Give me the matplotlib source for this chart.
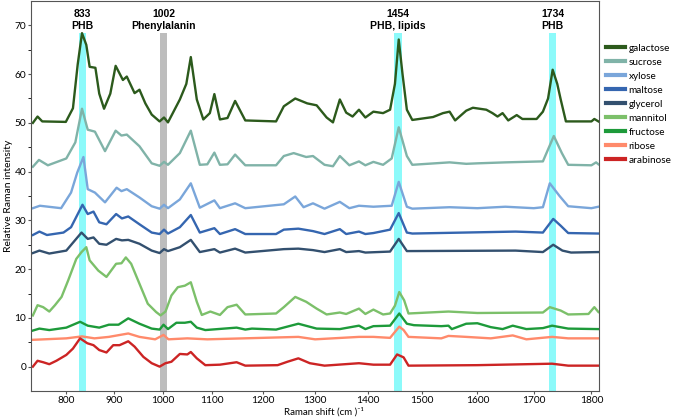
import numpy as np
import matplotlib
matplotlib.use("Agg")
import matplotlib.pyplot as plt

# ---------------- data ----------------
series_names = ["galactose", "sucrose", "xylose", "maltose", "glycerol",
                "mannitol", "fructose", "ribose", "arabinose"]
series_colors = ["#2c5a1c", "#80b3a8", "#7aa6da", "#3566b0", "#33506f",
                 "#7cc06a", "#1d9a3a", "#ff8a6b", "#cc2424"]

galactose_x = [730, 740, 750, 800, 815, 825, 834, 843, 850, 862, 870, 880, 893, 904, 919, 927, 943, 953, 965, 978,
               994, 1003, 1011, 1035, 1048, 1057, 1069, 1082, 1095, 1104, 1115, 1130, 1145, 1165, 1225, 1240, 1262,
               1285, 1303, 1322, 1334, 1347, 1359, 1371, 1383, 1395, 1410, 1428, 1441, 1450, 1457, 1464, 1472, 1482,
               1520, 1538, 1550, 1560, 1580, 1592, 1616, 1627, 1636, 1645, 1655, 1670, 1680, 1705, 1716, 1725, 1733,
               1741, 1747, 1756, 1800, 1805, 1812]
galactose_y = [50.0, 51.3, 50.3, 50.2, 53.0, 62.0, 68.4, 66.0, 61.5, 61.3, 56.0, 52.9, 56.0, 61.7, 58.8, 59.5, 56.1,
               56.8, 54.0, 51.7, 50.3, 51.1, 50.1, 54.8, 58.0, 63.5, 54.8, 50.7, 52.0, 55.9, 50.7, 51.0, 54.5, 50.5,
               50.3, 53.4, 55.0, 54.0, 53.6, 51.1, 50.1, 54.8, 52.1, 51.3, 52.7, 51.1, 52.3, 52.0, 52.7, 58.0, 67.1,
               60.0, 52.7, 50.6, 51.2, 52.0, 52.3, 50.5, 52.5, 53.1, 52.7, 52.0, 51.3, 52.0, 50.5, 51.6, 50.8, 50.8,
               52.3, 55.0, 60.9, 58.0, 54.8, 50.3, 50.3, 50.8, 50.3]

sucrose_x = [730, 743, 762, 801, 820, 834, 846, 861, 882, 904, 916, 927, 953, 978, 994, 1003, 1011, 1035, 1057, 1075,
             1090, 1104, 1115, 1130, 1145, 1165, 1225, 1240, 1259, 1283, 1296, 1318, 1334, 1347, 1365, 1383, 1395,
             1410, 1428, 1444, 1457, 1472, 1482, 1550, 1580, 1600, 1650, 1716, 1735, 1749, 1760, 1800, 1808, 1812]
sucrose_y = [41.0, 42.4, 41.3, 42.7, 46.0, 52.9, 48.6, 48.2, 44.2, 48.4, 47.4, 47.6, 45.2, 41.7, 41.2, 42.0, 41.4,
             43.8, 48.4, 41.4, 41.5, 43.9, 41.4, 41.5, 43.5, 41.3, 41.3, 43.2, 43.8, 43.0, 43.2, 41.4, 41.1, 43.2,
             41.3, 42.1, 41.3, 42.0, 41.4, 42.7, 49.1, 43.2, 41.4, 41.9, 41.6, 41.7, 41.9, 42.1, 47.3, 43.8, 41.4,
             41.3, 41.9, 41.5]

xylose_x = [730, 745, 790, 811, 824, 837, 846, 861, 882, 906, 916, 927, 953, 978, 994, 1003, 1011, 1035, 1057, 1075,
            1104, 1115, 1145, 1165, 1240, 1262, 1278, 1296, 1318, 1347, 1365, 1383, 1410, 1444, 1457, 1472, 1482,
            1550, 1600, 1650, 1700, 1716, 1728, 1745, 1760, 1800, 1812]
xylose_y = [32.5, 33.0, 32.5, 35.7, 39.8, 43.0, 36.4, 35.7, 33.7, 36.7, 36.0, 36.4, 34.7, 32.9, 32.4, 33.2, 32.5,
            34.3, 37.6, 32.6, 34.1, 32.5, 33.5, 32.5, 33.3, 34.9, 32.7, 33.5, 32.4, 33.8, 32.5, 33.0, 32.8, 33.0,
            37.9, 32.8, 32.4, 32.7, 32.5, 32.8, 32.5, 32.7, 37.6, 35.0, 32.9, 32.5, 32.8]

maltose_x = [730, 744, 760, 795, 811, 835, 846, 858, 870, 885, 905, 917, 930, 953, 978, 994, 1003, 1011, 1035, 1057,
             1075, 1104, 1115, 1145, 1165, 1225, 1240, 1268, 1296, 1318, 1347, 1359, 1383, 1395, 1410, 1441, 1457,
             1472, 1482, 1668, 1716, 1734, 1747, 1760, 1812]
maltose_y = [27.0, 27.7, 27.0, 27.5, 28.6, 33.2, 31.3, 31.8, 29.6, 29.2, 31.3, 30.4, 30.8, 29.2, 27.5, 27.2, 28.1,
             27.3, 28.6, 31.1, 27.5, 28.4, 27.2, 28.2, 27.2, 27.2, 28.1, 28.3, 27.8, 27.2, 28.2, 27.2, 27.7, 27.2,
             27.4, 28.1, 31.5, 27.5, 27.3, 27.7, 27.5, 30.3, 28.9, 27.4, 27.3]

glycerol_x = [730, 744, 765, 801, 833, 846, 858, 870, 885, 905, 917, 930, 953, 978, 994, 1003, 1011, 1035, 1057,
              1075, 1104, 1115, 1145, 1165, 1240, 1268, 1296, 1318, 1347, 1359, 1383, 1395, 1441, 1457, 1472, 1668,
              1716, 1734, 1750, 1765, 1812]
glycerol_y = [23.3, 23.8, 23.2, 23.8, 27.5, 26.2, 26.5, 25.2, 25.0, 26.2, 25.9, 26.0, 25.2, 23.8, 23.3, 24.1, 23.7,
              24.5, 26.0, 23.5, 24.1, 23.4, 24.2, 23.4, 24.1, 24.2, 23.9, 23.5, 24.1, 23.5, 23.7, 23.4, 23.6, 26.2,
              23.7, 23.8, 23.5, 25.0, 23.8, 23.4, 23.5]

mannitol_x = [730, 740, 752, 765, 777, 791, 805, 822, 833, 843, 850, 868, 885, 905, 916, 925, 936, 953, 970, 987,
              996, 1006, 1018, 1031, 1045, 1057, 1069, 1079, 1096, 1115, 1130, 1148, 1165, 1225, 1240, 1262, 1283,
              1303, 1322, 1347, 1359, 1383, 1395, 1410, 1428, 1441, 1450, 1458, 1467, 1475, 1548, 1600, 1716, 1728,
              1747, 1760, 1795, 1805, 1812]
mannitol_y = [10.5, 12.6, 12.2, 11.3, 12.6, 14.3, 17.7, 22.1, 23.5, 24.5, 21.8, 19.7, 18.4, 21.1, 21.2, 22.4, 21.1,
              17.0, 12.9, 11.2, 10.5, 11.3, 14.6, 16.3, 16.6, 17.3, 13.3, 10.6, 11.3, 10.6, 12.2, 12.7, 10.7, 10.9,
              12.2, 14.3, 13.3, 11.9, 10.7, 11.1, 10.8, 11.9, 10.8, 11.7, 10.7, 10.9, 12.5, 15.3, 13.6, 10.9, 11.3,
              11.0, 11.1, 12.2, 11.5, 10.7, 10.8, 12.2, 11.2]

fructose_x = [730, 744, 765, 801, 830, 846, 870, 890, 910, 930, 953, 978, 994, 1002, 1011, 1028, 1045, 1057, 1069,
              1086, 1148, 1165, 1178, 1225, 1268, 1303, 1347, 1383, 1395, 1410, 1441, 1458, 1472, 1485, 1535, 1548,
              1554, 1580, 1600, 1624, 1645, 1663, 1687, 1716, 1732, 1760, 1812]
fructose_y = [7.4, 7.8, 7.5, 8.0, 9.2, 8.4, 8.0, 8.6, 8.6, 9.9, 8.8, 7.8, 7.6, 8.6, 7.7, 9.0, 9.0, 9.2, 8.0, 7.5,
              8.0, 7.6, 7.8, 7.6, 8.8, 7.8, 7.7, 8.4, 7.7, 8.3, 8.4, 10.9, 8.8, 8.5, 8.3, 8.4, 7.7, 8.8, 8.9, 8.1,
              7.7, 8.4, 7.7, 7.9, 8.4, 7.8, 7.7]

ribose_x = [730, 801, 834, 860, 890, 930, 953, 985, 1002, 1012, 1050, 1090, 1268, 1300, 1383, 1410, 1441, 1458, 1466,
            1475, 1535, 1548, 1580, 1624, 1663, 1687, 1732, 1760, 1812]
ribose_y = [5.5, 5.8, 6.2, 5.8, 6.1, 6.8, 6.1, 5.6, 6.5, 5.6, 5.8, 5.6, 6.1, 5.6, 6.1, 6.1, 5.9, 8.2, 7.5, 6.1, 5.8,
            6.3, 6.1, 5.8, 6.4, 5.6, 6.1, 5.8, 5.8]

arabinose_x = [730, 740, 752, 765, 780, 801, 815, 830, 845, 858, 870, 885, 899, 912, 930, 943, 961, 978, 994, 1006,
               1018, 1035, 1050, 1057, 1069, 1086, 1115, 1148, 1165, 1228, 1247, 1268, 1290, 1318, 1383, 1410, 1441,
               1454, 1466, 1475, 1600, 1732, 1760, 1812]
arabinose_y = [0.0, 1.2, 0.9, 0.5, 1.2, 2.4, 3.7, 5.8, 4.8, 4.4, 3.4, 2.9, 4.4, 4.4, 5.2, 4.1, 2.0, 0.7, 0.0, 0.7,
               1.0, 2.6, 2.5, 3.0, 1.7, 0.3, 0.4, 0.9, 0.2, 0.3, 1.0, 1.7, 0.7, 0.2, 0.7, 0.4, 0.4, 2.5, 1.9, 0.2,
               0.3, 0.6, 0.2, 0.2]

band_centers = [835, 1002, 1456, 1733]
band_widths = [14, 14, 15, 12]
band_colors = ["#8cfafa", "#bdbdbd", "#8cfafa", "#8cfafa"]
band_labels = ["833\nPHB", "1002\nPhenylalanin", "1454\nPHB, lipids", "1734\nPHB"]

xticks = [800, 900, 1000, 1100, 1200, 1300, 1400, 1500, 1600, 1700, 1800]
yticks = [0, 10, 20, 30, 40, 50, 60, 70]

all_x = [galactose_x, sucrose_x, xylose_x, maltose_x, glycerol_x, mannitol_x, fructose_x, ribose_x, arabinose_x]
all_y = [galactose_y, sucrose_y, xylose_y, maltose_y, glycerol_y, mannitol_y, fructose_y, ribose_y, arabinose_y]

# ---------------- plot ----------------
plt.rcParams['font.family'] = ['Lato', 'DejaVu Sans']
fig = plt.figure(figsize=(6.77, 4.19), dpi=100)
ax = fig.add_axes([31 / 677, 28 / 419, 568 / 677, 390 / 419])

LASER = 11000.0
ax.set_xscale('function', functions=(lambda x: 1.0 / (LASER - np.asarray(x, float)),
                                     lambda u: LASER - 1.0 / np.asarray(u, float)))
ax.set_xlim(726, 1813)
ax.set_ylim(-5, 75)

for c, w, col in zip(band_centers, band_widths, band_colors):
    ax.fill_between([c - w / 2, c + w / 2], -5, 68.4, color=col, lw=0, zorder=1)

for xs, ys, name, col in zip(all_x, all_y, series_names, series_colors):
    ax.plot(xs, ys, color=col, lw=1.7, label=name, zorder=2, solid_joinstyle='round')

for c, lab in zip(band_centers, band_labels):
    ax.text(c, 68.9, lab, ha='center', va='bottom', fontsize=7.5, fontweight='bold',
            family=['Liberation Sans', 'DejaVu Sans'], linespacing=1.2)

ax.set_xticks(xticks)
ax.set_xticklabels([str(t) for t in xticks])
ax.set_yticks(yticks)
ax.set_yticks([5, 15, 25, 35, 45, 55, 65], minor=True)
ax.xaxis.set_minor_locator(matplotlib.ticker.NullLocator())
ax.tick_params(axis='both', labelsize=7.3, length=2.5, color='#555555', pad=1)
ax.tick_params(which='minor', length=2)
for s in ax.spines.values():
    s.set_color('#555555')
    s.set_linewidth(0.8)

ax.set_ylabel("Relative Raman intensity", fontsize=7.5, labelpad=1)
ax.set_xlabel("Raman shift (cm )⁻¹", fontsize=7)
ax.xaxis.set_label_coords(0.515, -0.042)

leg = fig.legend(loc='upper left', bbox_to_anchor=(603 / 677, 1 - 41 / 419), frameon=False,
                 fontsize=7.2, handlelength=1.9, handletextpad=0.35, labelspacing=0.5,
                 borderaxespad=0, borderpad=0.3)
for h in leg.get_lines():
    h.set_linewidth(3)

fig.savefig("out.png", dpi=100)
